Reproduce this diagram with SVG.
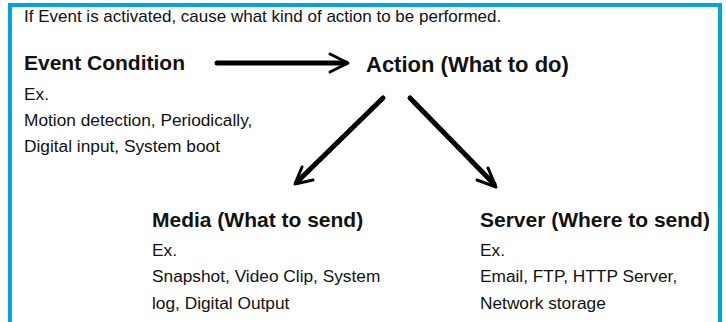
<svg xmlns="http://www.w3.org/2000/svg" width="726" height="322" viewBox="0 0 726 322">
<style>
.t{font-family:"Liberation Sans",Arial,sans-serif;fill:#111}
.h{font-size:21px;font-weight:bold}
.b{font-size:17.3px}
.s{font-size:17px}
.ln{stroke:#000;stroke-width:5;stroke-linecap:round;fill:none}
.hd{stroke:#000;stroke-width:3;stroke-linecap:round;stroke-linejoin:round;fill:none}
</style>
<rect x="10" y="5" width="710" height="340" fill="#fff" stroke="#00a2e8" stroke-width="4"/>
<text class="t s" x="24" y="22">If Event is activated, cause what kind of action to be performed.</text>
<g id="event">
<text class="t h" x="24" y="69.5">Event Condition</text>
<text class="t b" x="24" y="100">Ex.</text>
<text class="t b" x="24" y="126">Motion detection, Periodically,</text>
<text class="t b" x="24" y="152">Digital input, System boot</text>
</g>
<g id="action">
<text class="t h" x="366" y="72" style="font-size:22px">Action (What to do)</text>
</g>
<g id="media">
<text class="t h" x="152" y="226.5">Media (What to send)</text>
<text class="t b" x="152" y="256">Ex.</text>
<text class="t b" x="152" y="282">Snapshot, Video Clip, System</text>
<text class="t b" x="152" y="308.5">log, Digital Output</text>
</g>
<g id="server">
<text class="t h" x="480" y="226.5">Server (Where to send)</text>
<text class="t b" x="480" y="256">Ex.</text>
<text class="t b" x="480" y="282">Email, FTP, HTTP Server,</text>
<text class="t b" x="480" y="308.5">Network storage</text>
</g>
<g id="connectors">
<path class="ln" d="M217 63 H346"/>
<path class="hd" d="M330 54 L348 63 L330 72"/>
<path class="ln" d="M383 98 L297 182"/>
<path class="hd" d="M302 167 L295 184 L313 180"/>
<path class="ln" d="M410 98 L494 184"/>
<path class="hd" d="M488 168 L496 187 L477 180"/>
</g>
</svg>
